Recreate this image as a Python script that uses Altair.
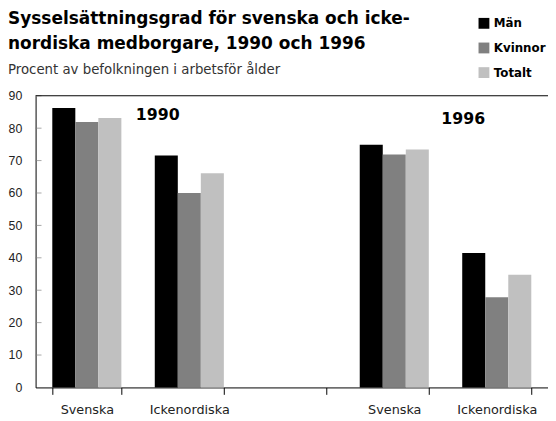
import altair as alt
import pandas as pd

slots = ["S1990", "I1990", "gap", "S1996", "I1996"]
groups = ["Män", "Kvinnor", "Totalt"]
colors = ["#000000", "#808080", "#c0c0c0"]

bar_slots = ["S1990", "I1990", "S1996", "I1996"]
man = [86.2, 71.6, 74.9, 41.5]
kvinnor = [81.9, 60.0, 71.9, 27.8]
totalt = [83.1, 66.1, 73.4, 34.8]

year_slots = ["I1990", "I1996"]
year_texts = ["1990", "1996"]
year_pos = [84.0, 82.8]

y_ticks = [0, 10, 20, 30, 40, 50, 60, 70, 80, 90]

rows = []
for i, s in enumerate(bar_slots):
    rows.append({"slot": s, "grupp": "Män", "value": man[i]})
    rows.append({"slot": s, "grupp": "Kvinnor", "value": kvinnor[i]})
    rows.append({"slot": s, "grupp": "Totalt", "value": totalt[i]})
df = pd.DataFrame(rows)

FONT = "DejaVu Sans"
W, H = 520, 296

label_expr = ("datum.label == '' ? '' : "
              "(datum.value == 'S1990' || datum.value == 'S1996' ? 'Svenska' : "
              "(datum.value == 'gap' ? '' : 'Ickenordiska'))")

x_scale = alt.Scale(domain=slots, paddingInner=0.326, paddingOuter=0.163)
y_scale = alt.Scale(domain=[0, 90], nice=False)

x_axis = alt.Axis(title=None, labelExpr=label_expr, tickBand="extent", labelAngle=0,
                  labelFont=FONT, labelFontSize=13, labelColor="#222222", labelPadding=9,
                  domainColor="#000000", tickColor="#000000", tickSize=7)
y_axis = alt.Axis(title=None, values=y_ticks, grid=False, ticks=False,
                  labelFont="Liberation Sans", labelFontSize=12.5, labelColor="#222222",
                  domainColor="#000000", labelPadding=14)

bars = alt.Chart(df).mark_bar().encode(
    x=alt.X("slot:N", scale=x_scale, axis=x_axis),
    xOffset=alt.XOffset("grupp:N", sort=groups),
    y=alt.Y("value:Q", scale=y_scale, axis=y_axis),
    color=alt.Color("grupp:N", sort=groups, scale=alt.Scale(domain=groups, range=colors),
                    legend=alt.Legend(title=None, orient="none", legendX=449, legendY=-79.5,
                                      symbolType="square", symbolSize=121, symbolStrokeWidth=0,
                                      labelFont=FONT, labelFontSize=12, labelFontWeight="bold",
                                      labelColor="#000000", rowPadding=13, labelOffset=4)),
)

ytick_df = pd.DataFrame({"v": y_ticks[1:]})
yticks = alt.Chart(ytick_df).mark_tick(color="#808080", thickness=1, size=6).encode(
    y=alt.Y("v:Q", scale=y_scale, axis=y_axis), x=alt.value(3))

year_layers = []
for s, t, v, dx in zip(year_slots, year_texts, year_pos, [-32, -34]):
    year_layers.append(
        alt.Chart(pd.DataFrame({"slot": [s], "text": [t], "value": [v]})).mark_text(
            font=FONT, fontSize=16, fontWeight="bold", align="center", baseline="middle",
            dx=dx, color="#000000").encode(
            x=alt.X("slot:N", scale=x_scale, axis=x_axis),
            y=alt.Y("value:Q", scale=y_scale, axis=y_axis),
            text="text:N"))

top_rule = alt.Chart(pd.DataFrame({"a": [0]})).mark_rule(color="#000000", strokeWidth=1).encode(
    x=alt.value(0), x2=alt.value(W), y=alt.value(0))

title_lines = ["Sysselsättningsgrad för svenska och icke-", "nordiska medborgare, 1990 och 1996"]
subtitle = "Procent av befolkningen i arbetsför ålder"

t1 = alt.Chart(pd.DataFrame({"t": [title_lines[0]]})).mark_text(
    font=FONT, fontSize=17.2, fontWeight="bold", align="left", baseline="alphabetic", color="#000000").encode(
    x=alt.value(-28), y=alt.value(-73), text="t:N")
t2 = alt.Chart(pd.DataFrame({"t": [title_lines[1]]})).mark_text(
    font=FONT, fontSize=17.2, fontWeight="bold", align="left", baseline="alphabetic", color="#000000").encode(
    x=alt.value(-28), y=alt.value(-47), text="t:N")
sub = alt.Chart(pd.DataFrame({"t": [subtitle]})).mark_text(
    font=FONT, fontSize=13.5, align="left", baseline="alphabetic", color="#333333").encode(
    x=alt.value(-28), y=alt.value(-22), text="t:N")

chart = alt.layer(bars, yticks, *year_layers, top_rule, t1, t2, sub).properties(
    width=W, height=H,
    autosize=alt.AutoSizeParams(type="none"),
    padding={"left": 28, "top": 86, "right": 0, "bottom": 31},
).configure_view(stroke=None).configure_axisX(labelFlush=False)

chart.save("out.html", embed_options={"renderer": "svg", "actions": False})
